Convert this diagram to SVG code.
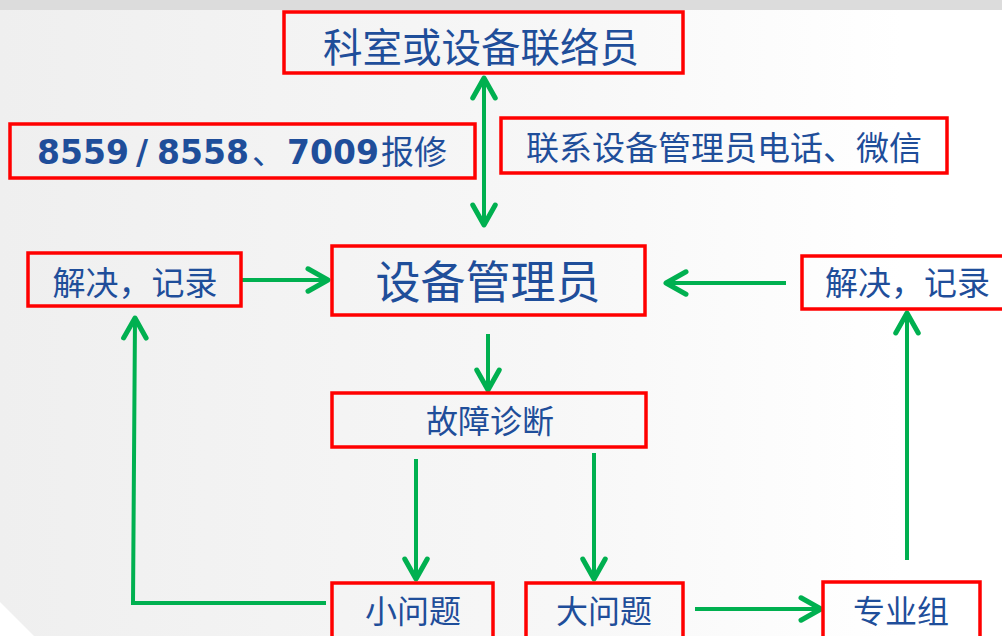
<svg xmlns="http://www.w3.org/2000/svg" width="1002" height="636" viewBox="0 0 1002 636">
  <defs>
    <linearGradient id="bg" x1="0" y1="0" x2="1" y2="0">
      <stop offset="0" stop-color="#efefef"/>
      <stop offset="0.55" stop-color="#f7f7f7"/>
      <stop offset="0.9" stop-color="#ffffff"/>
    </linearGradient>
    <marker id="ah" markerUnits="userSpaceOnUse" markerWidth="30" markerHeight="30" refX="0" refY="0" viewBox="-20 -12 24 24" orient="auto-start-reverse" overflow="visible">
      <path d="M -16 -9 L 0 0 L -16 9" fill="none" stroke="#00b050" stroke-width="4" stroke-linecap="round" stroke-linejoin="round"/>
    </marker>
    <style>
      .box { fill: none; stroke: #ff0000; stroke-width: 3.5; }
      .t { font-family: "Noto Sans CJK SC", "Noto Sans", sans-serif; fill: #1f4e9a; }
      .num { font-family: "DejaVu Sans", "Noto Sans CJK SC", sans-serif; font-weight: bold; fill: #1f4e9a; }
      .c { fill: none; stroke: #00b050; stroke-width: 4; stroke-linejoin: miter; }
      .c .a { marker-end: url(#ah); }
    </style>
  </defs>

  <rect x="0" y="0" width="1002" height="636" fill="#ffffff"/>
  <polygon points="0,10 1002,10 1002,636 34,636 0,602" fill="url(#bg)"/>
  <rect x="0" y="0" width="1002" height="10" fill="#dcdcdc"/>

  <g id="connectors" class="c">
    <line x1="484" y1="78" x2="484" y2="225" marker-start="url(#ah)" marker-end="url(#ah)"/>
    <line class="a" x1="242" y1="280" x2="328" y2="280"/>
    <line class="a" x1="786" y1="283" x2="666" y2="283"/>
    <line class="a" x1="488" y1="334" x2="488" y2="390"/>
    <line class="a" x1="416" y1="459" x2="416" y2="579"/>
    <line class="a" x1="594" y1="453" x2="594" y2="579"/>
    <polyline class="a" points="326,603 133,603 135,318"/>
    <line class="a" x1="695" y1="609" x2="821" y2="609"/>
    <line class="a" x1="907" y1="560" x2="907" y2="313"/>
  </g>

  <g id="n-liaison">
    <rect class="box" x="284" y="12" width="399" height="61"/>
    <text class="t" x="481" y="62" font-size="39.5" text-anchor="middle">科室或设备联络员</text>
  </g>
  <g id="n-phone">
    <rect class="box" x="10" y="124" width="465" height="54"/>
    <text class="num" y="164" font-size="33"><tspan x="37">8559</tspan><tspan x="136">/</tspan><tspan x="157">8558</tspan><tspan x="252" class="t" font-weight="normal">、</tspan><tspan x="287">7009</tspan><tspan x="381" class="t" font-weight="normal">报修</tspan></text>
  </g>
  <g id="n-contact">
    <rect class="box" x="501" y="118" width="446" height="55"/>
    <text class="t" x="724" y="160" font-size="33" text-anchor="middle">联系设备管理员电话、微信</text>
  </g>
  <g id="n-solve-left">
    <rect class="box" x="28" y="253" width="213" height="53"/>
    <text class="t" x="135" y="295" font-size="33" text-anchor="middle">解决，记录</text>
  </g>
  <g id="n-manager">
    <rect class="box" x="332" y="246" width="313" height="69"/>
    <text class="t" x="488" y="299" font-size="45" text-anchor="middle">设备管理员</text>
  </g>
  <g id="n-solve-right">
    <rect class="box" x="802" y="256" width="215" height="53"/>
    <text class="t" x="825" y="295" font-size="33">解决，记录</text>
  </g>
  <g id="n-diagnosis">
    <rect class="box" x="332" y="393" width="314" height="54"/>
    <text class="t" x="490" y="433" font-size="32" text-anchor="middle">故障诊断</text>
  </g>
  <g id="n-small">
    <rect class="box" x="332" y="583" width="161" height="60"/>
    <text class="t" x="413" y="623" font-size="32" text-anchor="middle">小问题</text>
  </g>
  <g id="n-big">
    <rect class="box" x="526" y="583" width="157" height="60"/>
    <text class="t" x="604" y="623" font-size="32" text-anchor="middle">大问题</text>
  </g>
  <g id="n-team">
    <rect class="box" x="823" y="582" width="157" height="60"/>
    <text class="t" x="901" y="623" font-size="32" text-anchor="middle">专业组</text>
  </g>
</svg>
